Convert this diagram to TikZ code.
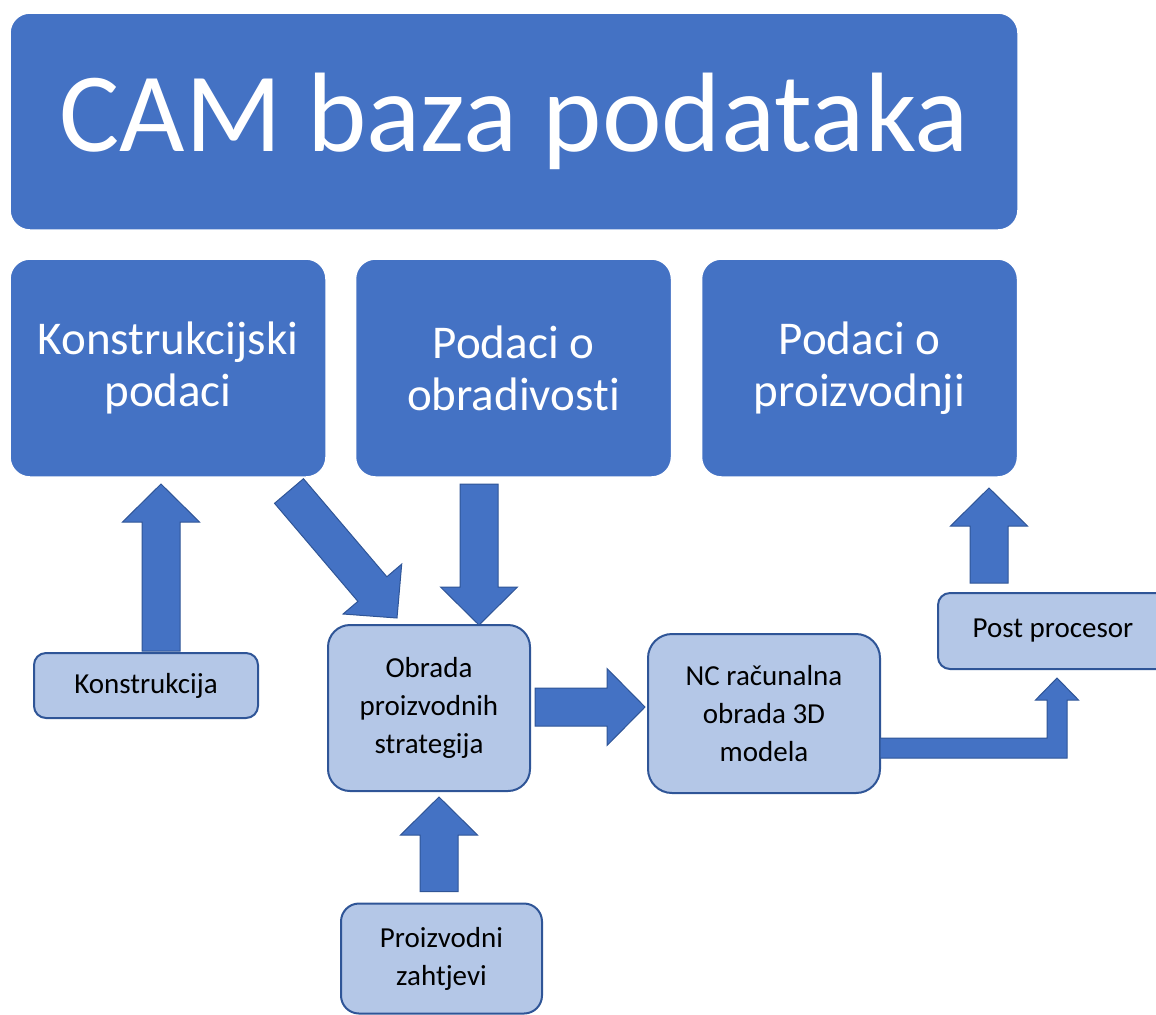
\documentclass[tikz,border=0pt]{standalone}
\usepackage{fontspec}
\setmainfont{Carlito}[RawFeature={-liga;-clig;-calt;-dlig}]
\usetikzlibrary{calc}
\definecolor{camblue}{HTML}{4472C4}
\definecolor{camlight}{HTML}{B4C7E7}
\definecolor{camedge}{HTML}{2F5597}
\newcommand{\blockarrow}[2]{%
  \coordinate (hb) at ($(#2)!19pt!(#1)$);
  \draw[arrowbody] ($(#1)!9.5pt!90:(#2)$) -- ($(hb)!9.5pt!90:(#2)$) -- ($(hb)!19.25pt!90:(#2)$) -- (#2)
    -- ($(hb)!19.25pt!-90:(#2)$) -- ($(hb)!9.5pt!-90:(#2)$) -- ($(#1)!9.5pt!-90:(#2)$) -- cycle;
}
\begin{document}
\begin{tikzpicture}[x=0.5pt, y=-0.5pt,
  bigbox/.style={rectangle, rounded corners=10pt, fill=camblue, draw=white, line width=0.75pt,
    text=white, align=center, inner sep=0pt, outer sep=0pt, minimum width=158pt, minimum height=109pt,
    font=\fontsize{23.5}{26}\selectfont},
  smallbox/.style={rectangle, rounded corners=#1, fill=camlight, draw=camedge, line width=1pt,
    align=center, inner sep=0pt, outer sep=0pt, font=\fontsize{14.5}{19}\selectfont},
  smallbox/.default=8pt,
  arrowbody/.style={fill=camblue, draw=camedge, line width=0.5pt}]
\useasboundingbox (0,0) rectangle (1156,1014);
\node[bigbox, minimum width=504pt, minimum height=108.5pt, font=\fontsize{56.5}{60}\selectfont] (cam) at (514,121.5) {CAM baza podataka};
\node[bigbox] (konpod) at (168,368) {Konstrukcijski\\podaci};
\node[bigbox] (obrpod) at (513.5,368) {Podaci o\\obradivosti};
\node[bigbox] (propod) at (859.5,368) {Podaci o\\proizvodnji};
\node[smallbox=6pt, minimum width=112pt, minimum height=32.5pt] (konstr) at (146,685.5) {Konstrukcija};
\node[smallbox=11pt, minimum width=101pt, minimum height=83pt] (obrada) at (429,708) {Obrada\\proizvodnih\\strategija};
\node[smallbox=12pt, minimum width=116pt, minimum height=79.5pt] (nc) at (764,713.5) {NC računalna\\obrada 3D\\modela};
\node[smallbox=6pt, minimum width=115pt, minimum height=38pt] (post) at (1053,631) {Post procesor};
\node[smallbox=9pt, minimum width=100.5pt, minimum height=55pt] (zaht) at (441.5,958.5) {Proizvodni\\zahtjevi};
\coordinate (a1s) at ($(konstr.north)+(15,-2)$);
\coordinate (a1e) at ($(konpod.south)+(-7,7)$);
\coordinate (a2s) at ($(konpod.south east)+(-37,14)$);
\coordinate (a2e) at ($(obrada.north west)+(69,-7)$);
\coordinate (a3s) at ($(obrpod.south)+(-34.5,7)$);
\coordinate (a3e) at ($(obrada.north)+(50,0)$);
\coordinate (a4s) at ($(zaht.north)+(-2.5,-12)$);
\coordinate (a4e) at ($(obrada.south)+(10,6)$);
\coordinate (a5s) at ($(obrada.east)+(5,-1)$);
\coordinate (a5e) at ($(nc.west)+(-3,-6.5)$);
\coordinate (a7s) at ($(post.north)+(-64,-10)$);
\coordinate (a7e) at ($(propod.south)+(129.5,11)$);
\foreach \s/\e in {a1s/a1e, a2s/a2e, a3s/a3e, a4s/a4e, a5s/a5e, a7s/a7e}{
\blockarrow{\s}{\e}
}
\coordinate (b0) at ($(nc.east)+(0,34.5)$);
\coordinate (bt) at ($(post.south)+(4,9)$);
\draw[arrowbody] ($(b0)+(0,-10)$) -- ($(bt |- b0)+(-10,-10)$) -- ($(bt)+(-10,22)$) -- ($(bt)+(-21.5,22)$) -- (bt)
  -- ($(bt)+(21.5,22)$) -- ($(bt)+(10,22)$) -- ($(bt |- b0)+(10,10)$) -- ($(b0)+(0,10)$) -- cycle;
\end{tikzpicture}
\end{document}
